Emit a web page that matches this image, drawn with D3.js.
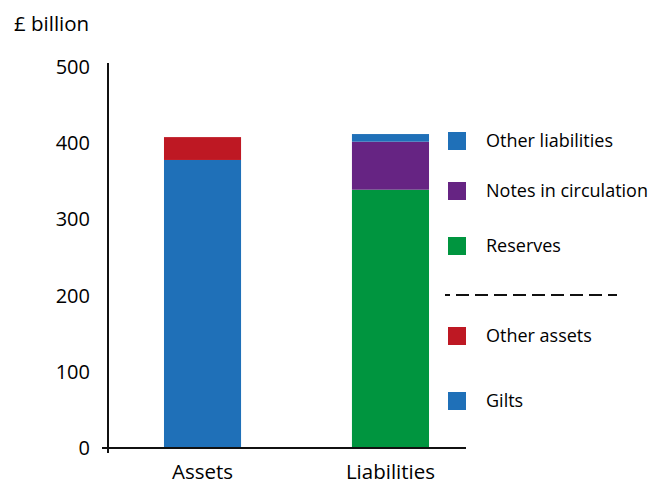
<!DOCTYPE html>
<html>
<head>
<meta charset="utf-8">
<script src="https://cdn.jsdelivr.net/npm/d3@7"></script>
<style>
  html, body { margin: 0; padding: 0; background: #fff; }
  svg { display: block; }
  text { font-family: "Open Sans", "Noto Sans", sans-serif; fill: #000; }
</style>
</head>
<body>
<svg id="chart" width="651" height="484"></svg>
<script>
// Balance sheet, £ billion
const categories = ["Assets", "Liabilities"];
const assetSeries = ["Gilts", "Other assets"];
const assetValues = [378, 30];
const liabilitySeries = ["Reserves", "Notes in circulation", "Other liabilities"];
const liabilityValues = [339, 63, 10];
const yTicks = [0, 100, 200, 300, 400, 500];

const colours = {
  "Gilts": "#1f70b8",
  "Other assets": "#be1823",
  "Reserves": "#00953f",
  "Notes in circulation": "#662483",
  "Other liabilities": "#1f70b8"
};

// legend order, top to bottom; the dashed rule separates liabilities from assets
const legendTop = ["Other liabilities", "Notes in circulation", "Reserves"];
const legendBottom = ["Other assets", "Gilts"];

const svg = d3.select("#chart");
const left = 108, bottom = 448;

const y = d3.scaleLinear().domain([0, 500]).range([bottom, 67]);
const x = d3.scaleBand().domain(categories).range([70, 523]).paddingInner(0.59).paddingOuter(0.5);

// stacks per category
const stacks = [
  { cat: "Assets", names: assetSeries, vals: assetValues },
  { cat: "Liabilities", names: liabilitySeries, vals: liabilityValues }
];
stacks.forEach(s => {
  const cum = d3.cumsum(s.vals);
  s.names.forEach((n, i) => {
    const y0 = i === 0 ? 0 : cum[i - 1];
    const y1 = cum[i];
    svg.append("rect")
      .attr("x", x(s.cat))
      .attr("width", x.bandwidth())
      .attr("y", y(y1))
      .attr("height", y(y0) - y(y1))
      .attr("fill", colours[n]);
  });
});

// axes
svg.append("line")
  .attr("x1", left).attr("x2", left)
  .attr("y1", 63).attr("y2", bottom + 5)
  .attr("stroke", "#111").attr("stroke-width", 2);
svg.append("line")
  .attr("x1", left - 6).attr("x2", 466)
  .attr("y1", bottom).attr("y2", bottom)
  .attr("stroke", "#111").attr("stroke-width", 2);

svg.selectAll(".ytick")
  .data(yTicks)
  .join("text")
  .attr("class", "ytick")
  .attr("x", 90)
  .attr("y", d => y(d))
  .attr("dy", "0.35em")
  .attr("text-anchor", "end")
  .style("font-size", "20px")
  .text(d => d);

svg.selectAll(".xlab")
  .data(categories)
  .join("text")
  .attr("class", "xlab")
  .attr("x", d => x(d) + x.bandwidth() / 2)
  .attr("y", 479)
  .attr("text-anchor", "middle")
  .style("font-size", "20.5px")
  .text(d => d);

svg.append("text")
  .attr("x", 14).attr("y", 31)
  .style("font-size", "20.5px")
  .text("£ billion");

// legend
const legendY = {
  "Other liabilities": 141,
  "Notes in circulation": 191,
  "Reserves": 246,
  "Other assets": 336,
  "Gilts": 401
};
const legendNames = legendTop.concat(legendBottom);
const lg = svg.selectAll(".lg").data(legendNames).join("g").attr("class", "lg")
  .attr("transform", d => `translate(448,${legendY[d]})`);
lg.append("rect").attr("x", 0).attr("y", -9).attr("width", 18).attr("height", 18)
  .attr("fill", d => colours[d]);
lg.append("text").attr("x", 38).attr("y", 0).attr("dy", "0.35em")
  .style("font-size", "18px").text(d => d);

svg.append("line")
  .attr("x1", 445).attr("x2", 617)
  .attr("y1", 295).attr("y2", 295)
  .attr("stroke", "#111").attr("stroke-width", 2)
  .attr("stroke-dasharray", "13,6")
  .attr("stroke-dashoffset", 8);
</script>
</body>
</html>
